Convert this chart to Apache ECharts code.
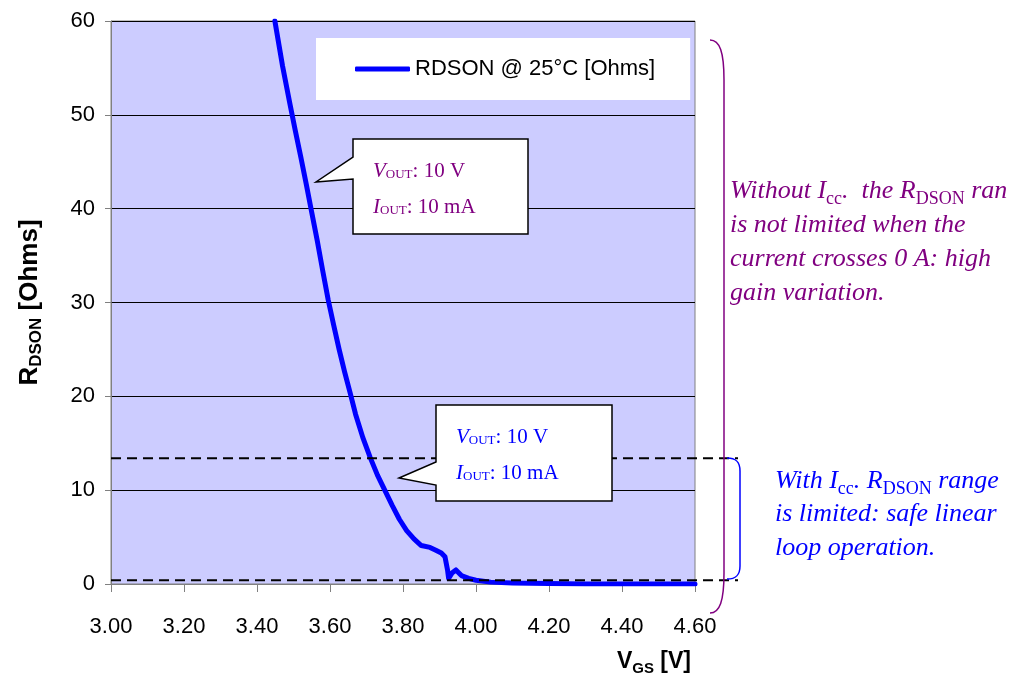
<!DOCTYPE html>
<html>
<head>
<meta charset="utf-8">
<script src="https://cdn.jsdelivr.net/npm/echarts@6/dist/echarts.min.js"></script>
<style>
  html, body { margin: 0; padding: 0; background: #fff; }
  #chart { width: 1030px; height: 677px; }
</style>
</head>
<body>
<div id="chart"></div>
<script>
// gate voltage [V] and on-resistance [Ohms]
const vgs = [3.449, 3.47, 3.49, 3.505, 3.52, 3.535, 3.55, 3.565, 3.58, 3.595, 3.61, 3.625, 3.64, 3.655,
  3.67, 3.69, 3.71, 3.73, 3.75, 3.77, 3.79, 3.81, 3.83, 3.85, 3.874, 3.89, 3.905, 3.915, 3.922, 3.925,
  3.935, 3.945, 3.96, 3.98, 4.0, 4.04, 4.1, 4.2, 4.3, 4.6];
const rdson = [60, 55.2, 51.2, 48.3, 45.5, 42.6, 39.6, 36.6, 33.4, 30.3, 27.6, 25.0, 22.6, 20.4,
  18.1, 15.6, 13.5, 11.6, 10.0, 8.4, 6.9, 5.7, 4.8, 4.1, 3.9, 3.6, 3.3, 2.9, 1.5, 0.6,
  1.2, 1.5, 0.9, 0.6, 0.4, 0.2, 0.1, 0.05, 0.0, 0.0];
const xTicks = { min: 3.0, max: 4.6, step: 0.2 };
const yTicks = { min: 0, max: 60, step: 10 };
const limits = [13.4, 0.4];   // dashed R_DSON limits

const chart = echarts.init(document.getElementById('chart'));

const serif = '"Liberation Serif", "DejaVu Serif", serif';
const sans = '"Liberation Sans", Arial, sans-serif';

function richStyle(color, size, sub) {
  return {
    i: { fontFamily: serif, fontStyle: 'italic', fontSize: size, fill: color, lineHeight: 34 },
    s: { fontFamily: serif, fontSize: sub, fill: color, lineHeight: 22, verticalAlign: 'bottom' }
  };
}

chart.setOption({
  animation: false,
  grid: {
    left: 111, right: 335, top: 21, bottom: 93,
    show: true, backgroundColor: '#ccccff', borderColor: '#808080', borderWidth: 1
  },
  legend: {
    left: 316, top: 38,
    padding: [20, 35, 20, 39],
    backgroundColor: '#fff',
    icon: 'roundRect', itemWidth: 55, itemHeight: 5,
    textStyle: { fontFamily: sans, fontSize: 22, color: '#000' },
    data: ['RDSON @ 25°C [Ohms]']
  },
  xAxis: {
    type: 'value', min: xTicks.min, max: xTicks.max, interval: xTicks.step,
    name: '{b|V}{s|GS}{b| [V]}',
    nameLocation: 'end', nameGap: 0,
    nameTextStyle: {
      align: 'right', verticalAlign: 'top', padding: [64, 4, 0, 0],
      rich: {
        b: { fontFamily: sans, fontWeight: 'bold', fontSize: 23, color: '#000', lineHeight: 28 },
        s: { fontFamily: sans, fontWeight: 'bold', fontSize: 15, color: '#000', lineHeight: 18, verticalAlign: 'bottom' }
      }
    },
    axisLine: { lineStyle: { color: '#808080', width: 1 } },
    axisTick: { length: 8, lineStyle: { color: '#808080' } },
    axisLabel: {
      margin: 32, fontFamily: sans, fontSize: 22, color: '#000',
      formatter: v => v.toFixed(2)
    },
    splitLine: { show: false }
  },
  yAxis: {
    type: 'value', min: yTicks.min, max: yTicks.max, interval: yTicks.step,
    name: '{b|R}{s|DSON}{b| [Ohms]}',
    nameLocation: 'middle', nameRotate: 90, nameGap: 66,
    nameTextStyle: {
      rich: {
        b: { fontFamily: sans, fontWeight: 'bold', fontSize: 26, color: '#000', lineHeight: 30 },
        s: { fontFamily: sans, fontWeight: 'bold', fontSize: 17, color: '#000', lineHeight: 20, verticalAlign: 'bottom' }
      }
    },
    axisLine: { show: true, lineStyle: { color: '#808080', width: 1 } },
    axisTick: { show: true, length: 6, lineStyle: { color: '#808080' } },
    axisLabel: { margin: 16, fontFamily: sans, fontSize: 22, color: '#000' },
    splitLine: { lineStyle: { color: '#000', width: 1 } }
  },
  series: [{
    name: 'RDSON @ 25°C [Ohms]',
    type: 'line',
    showSymbol: false,
    smooth: false,
    clip: true,
    color: '#0000ff',
    lineStyle: { color: '#0000ff', width: 5, cap: 'round', join: 'round' },
    data: vgs.map((v, i) => [v, rdson[i]])
  }]
});

// annotations drawn on top, limit lines placed via the axis scale
const x0 = chart.convertToPixel({ xAxisIndex: 0 }, xTicks.min);
const graphics = limits.map(v => {
  const y = chart.convertToPixel({ yAxisIndex: 0 }, v);
  return {
    type: 'line', z: 50,
    shape: { x1: x0, y1: y, x2: 738, y2: y },
    style: { stroke: '#000', lineWidth: 1.8, lineDash: [10, 6] }
  };
});

function callout(pts, color, tx, ty) {
  graphics.push({
    type: 'polygon', z: 60,
    shape: { points: pts },
    style: { fill: '#fff', stroke: '#000', lineWidth: 1.5 }
  });
  const rich = {
    i: { fontFamily: serif, fontStyle: 'italic', fontSize: 21, fill: color },
    s: { fontFamily: serif, fontSize: 13, fill: color, lineHeight: 16, verticalAlign: 'bottom' },
    n: { fontFamily: serif, fontSize: 21, fill: color }
  };
  graphics.push({
    type: 'text', z: 61, x: tx, y: ty,
    style: { text: '{i|V}{s|OUT}{n|: 10 V}', rich: rich, verticalAlign: 'middle' }
  });
  graphics.push({
    type: 'text', z: 61, x: tx, y: ty + 36,
    style: { text: '{i|I}{s|OUT}{n|: 10 mA}', rich: rich, verticalAlign: 'middle' }
  });
}
callout([[353, 139], [528, 139], [528, 234], [353, 234], [353, 179], [316, 182], [353, 157]], '#800080', 373, 171);
callout([[436, 405], [612, 405], [612, 501], [436, 501], [436, 485], [399, 478], [436, 462]], '#0000ff', 456, 437);

// brackets: curved end, straight spine, curved end
function bracket(top, bottom, xEnd, xSpine, bend, color) {
  const st = { fill: 'none', stroke: color, lineWidth: 1.5 };
  graphics.push({
    type: 'bezierCurve', z: 55, style: st,
    shape: { x1: xEnd, y1: top, cpx1: xEnd + 0.7 * (xSpine - xEnd), cpy1: top, cpx2: xSpine, cpy2: top + 0.3 * bend, x2: xSpine, y2: top + bend }
  });
  graphics.push({
    type: 'line', z: 55, style: st,
    shape: { x1: xSpine, y1: top + bend, x2: xSpine, y2: bottom - bend }
  });
  graphics.push({
    type: 'bezierCurve', z: 55, style: st,
    shape: { x1: xSpine, y1: bottom - bend, cpx1: xSpine, cpy1: bottom - 0.3 * bend, cpx2: xEnd + 0.7 * (xSpine - xEnd), cpy2: bottom, x2: xEnd, y2: bottom }
  });
}
bracket(40, 613, 710, 724, 40, '#800080');
bracket(458, 579, 727, 740, 13, '#0000ff');

const purple = richStyle('#800080', 26, 18);
const purpleLines = [
  '{i|Without I}{s|cc}{i|.  the R}{s|DSON}{i| ran}',
  '{i|is not limited when the}',
  '{i|current crosses 0 A: high}',
  '{i|gain variation.}'
];
purpleLines.forEach((t, k) => graphics.push({
  type: 'text', z: 56, x: 730, y: 191 + k * 34,
  style: { text: t, rich: purple, verticalAlign: 'middle' }
}));

const blue = richStyle('#0000ff', 26, 18);
const blueLines = [
  '{i|With I}{s|cc}{i|. R}{s|DSON}{i| range}',
  '{i|is limited: safe linear}',
  '{i|loop operation.}'
];
blueLines.forEach((t, k) => graphics.push({
  type: 'text', z: 56, x: 775, y: 481 + k * 33.5,
  style: { text: t, rich: blue, verticalAlign: 'middle' }
}));

chart.setOption({ graphic: graphics });
</script>
</body>
</html>
